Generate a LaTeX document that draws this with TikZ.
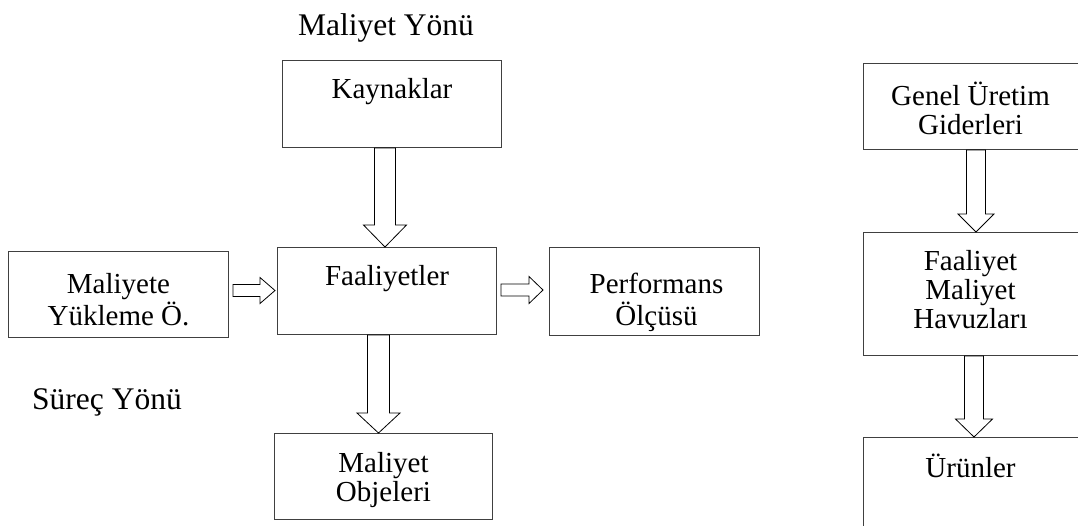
\documentclass[tikz,border=0pt]{standalone}
\usepackage{fontspec}
\setmainfont{Liberation Serif}
\usetikzlibrary{calc}
\newcommand{\lines}[1]{\begin{tabular}[t]{@{}c@{}}#1\end{tabular}}
\newcommand{\bdown}[6]{% #1 start, #2 target node, #3 shaft hw, #4 head hw, #5 head len, #6 tip offset
  \coordinate (s) at #1;
  \coordinate (t) at ($(s |- #2.north)+(0,#6)$);
  \draw[blockarrow] ($(s)+(-#3,0)$) -- ($(t)+(-#3,-#5)$) -- ($(t)+(-#4,-#5)$) -- (t)
    -- ($(t)+(#4,-#5)$) -- ($(t)+(#3,-#5)$) -- ($(s)+(#3,0)$) -- cycle;}
\newcommand{\bright}[6]{% #1 start, #2 target node, #3 shaft hh, #4 head hh, #5 head len, #6 tip offset
  \coordinate (s) at #1;
  \coordinate (t) at ($(s -| #2.west)+(#6,0)$);
  \draw[blockarrow] ($(s)+(0,-#3)$) -- ($(t)+(-#5,-#3)$) -- ($(t)+(-#5,-#4)$) -- (t)
    -- ($(t)+(-#5,#4)$) -- ($(t)+(-#5,#3)$) -- ($(s)+(0,#3)$) -- cycle;}
\tikzset{
  box/.style={draw=black!75, line width=1pt, rectangle, inner sep=0pt, anchor=north west},
  txt/.style={font=\fontsize{29}{29}\selectfont, inner sep=0pt, anchor=base},
  lbl/.style={font=\fontsize{31.5}{31.5}\selectfont, inner sep=0pt, anchor=base},
  blockarrow/.style={draw=black, line width=0.8pt, fill=white, line join=miter}
}
\begin{document}
\begin{tikzpicture}[x=1pt, y=-1pt]
\useasboundingbox (0,0) rectangle (1078,525);
\fill[white] (0,0) rectangle (1078,525);
\clip (0,0) rectangle (1078,525);
% boxes
\node[box, minimum width=219pt, minimum height=87pt] (kay) at (282,60) {};
\node[box, minimum width=219pt, minimum height=87pt] (faa) at (277,247) {};
\node[box, minimum width=220pt, minimum height=86pt] (mal) at (8,251) {};
\node[box, minimum width=210pt, minimum height=88pt] (per) at (549,247) {};
\node[box, minimum width=218pt, minimum height=86pt] (obj) at (274,433) {};
\node[box, minimum width=220pt, minimum height=86pt] (gen) at (863,63) {};
\node[box, minimum width=220pt, minimum height=123pt] (fmh) at (863,232) {};
\node[box, minimum width=220pt, minimum height=110pt] (urn) at (863,437) {};
% texts
\node[lbl] (ly) at (386,35) {Maliyet Yönü};
\node[lbl, anchor=base west] (ls) at (32,409) {Süreç Yönü};
\node[txt] (tkay) at ($(kay.north)+(0,38)$) {Kaynaklar};
\node[txt] (tfaa) at ($(faa.north)+(0,38)$) {Faaliyetler};
\node[txt] (tmal) at ($(mal.north)+(0,42)$) {\lines{Maliyete\\Yükleme Ö.}};
\node[txt] (tper) at ($(per.north)+(2,46)$) {\lines{Performans\\Ölçüsü}};
\node[txt] (tobj) at ($(obj.north)+(0,39)$) {\lines{Maliyet\\Objeleri}};
\node[txt] (tgen) at ($(gen.north)+(-3,42)$) {\lines{Genel Üretim\\Giderleri}};
\node[txt] (tfmh) at ($(fmh.north)+(-3,38)$) {\lines{Faaliyet\\Maliyet\\Havuzları}};
\node[txt] (turn) at ($(urn.north)+(-3,40)$) {Ürünler};
% block arrows
\bdown{($(kay.south)+(-7,0)$)}{faa}{10.5}{21.5}{22}{0}
\bdown{($(faa.south)+(-8.5,0)$)}{obj}{11}{21.5}{20}{0}
\bright{($(mal.east)+(4,-4)$)}{faa}{6}{13}{15}{-2}
\bright{($(faa.east)+(4,-1)$)}{per}{6}{13.5}{14}{-6}
\bdown{($(gen.south)+(2.5,0)$)}{fmh}{9.5}{18}{18}{0}
\bdown{($(fmh.south)+(0.5,0)$)}{urn}{9.5}{18.5}{18}{0}
\end{tikzpicture}
\end{document}
